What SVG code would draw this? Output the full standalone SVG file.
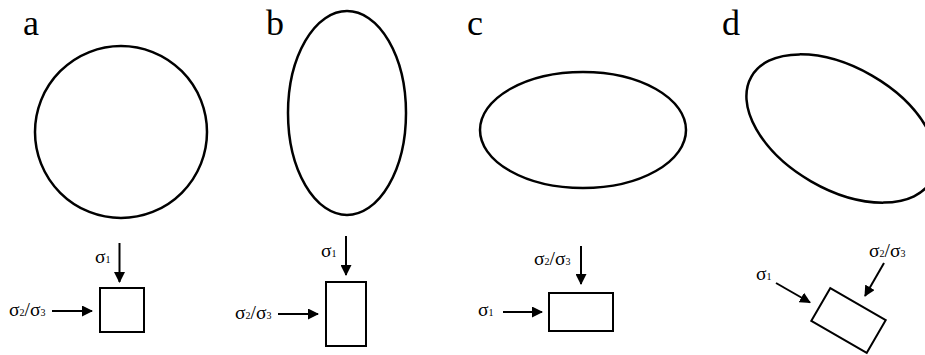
<svg xmlns="http://www.w3.org/2000/svg" width="925" height="355" viewBox="0 0 925 355">
<style>
.shape{fill:none;stroke:#000;stroke-width:2.5}
.box{fill:none;stroke:#000;stroke-width:2}
.arr{fill:none;stroke:#000;stroke-width:2;marker-end:url(#ah)}
.lbl{font-family:"Liberation Serif","Times New Roman",serif;font-size:36px;fill:#000}
.sig{font-family:"Liberation Serif","Times New Roman",serif;font-size:19.5px;fill:#000}
.sub{font-size:10px}
</style>
<defs>
<marker id="ah" markerUnits="userSpaceOnUse" markerWidth="11" markerHeight="11" viewBox="0 0 11 11" refX="10" refY="5.5" orient="auto">
<path d="M0,0 L11,5.5 L0,11 z" fill="#000"/>
</marker>
</defs>
<rect width="925" height="355" fill="#fff"/>
<g id="panel-a">
<text class="lbl" x="23" y="35">a</text>
<circle class="shape" cx="121" cy="132" r="86"/>
<rect class="box" x="100" y="288" width="44" height="44"/>
<text class="sig" x="95" y="263">σ<tspan class="sub">1</tspan></text>
<text class="sig" x="9" y="316">σ<tspan class="sub">2</tspan>/σ<tspan class="sub">3</tspan></text>
</g>
<g id="panel-b">
<text class="lbl" x="266" y="35">b</text>
<ellipse class="shape" cx="347" cy="113" rx="59" ry="102"/>
<rect class="box" x="326" y="282" width="40" height="64"/>
<text class="sig" x="321" y="257">σ<tspan class="sub">1</tspan></text>
<text class="sig" x="235" y="319">σ<tspan class="sub">2</tspan>/σ<tspan class="sub">3</tspan></text>
</g>
<g id="panel-c">
<text class="lbl" x="467" y="35">c</text>
<ellipse class="shape" cx="583" cy="130" rx="103" ry="58"/>
<rect class="box" x="549" y="293" width="64" height="38"/>
<text class="sig" x="534" y="265">σ<tspan class="sub">2</tspan>/σ<tspan class="sub">3</tspan></text>
<text class="sig" x="478" y="316">σ<tspan class="sub">1</tspan></text>
</g>
<g id="panel-d">
<text class="lbl" x="722" y="35">d</text>
<ellipse class="shape" cx="841.5" cy="128.5" rx="104" ry="61" transform="rotate(30 841.5 128.5)"/>
<rect class="box" x="816.5" y="301.5" width="64" height="38" transform="rotate(30 848.5 320.5)"/>
<text class="sig" x="756" y="280">σ<tspan class="sub">1</tspan></text>
<text class="sig" x="869" y="257">σ<tspan class="sub">2</tspan>/σ<tspan class="sub">3</tspan></text>
</g>
<g id="connectors">
<line class="arr" x1="119.5" y1="243" x2="119.5" y2="282"/>
<line class="arr" x1="52" y1="311" x2="92" y2="311"/>
<line class="arr" x1="346" y1="236" x2="346" y2="275"/>
<line class="arr" x1="278" y1="314" x2="318" y2="314"/>
<line class="arr" x1="581" y1="246" x2="581" y2="284"/>
<line class="arr" x1="503" y1="312" x2="542" y2="312"/>
<line class="arr" x1="776" y1="283" x2="810" y2="302.5"/>
<line class="arr" x1="884" y1="263" x2="865" y2="296"/>
</g>
</svg>
